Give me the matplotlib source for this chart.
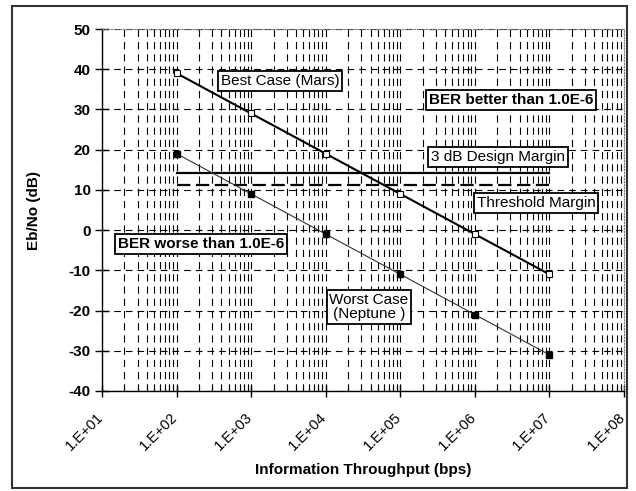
import numpy as np
import matplotlib
matplotlib.use('Agg')
import matplotlib.pyplot as plt
import matplotlib.transforms as mtransforms
from matplotlib.patches import Rectangle
from matplotlib.ticker import LogLocator, NullFormatter

plt.rcParams['font.family'] = ['Liberation Sans', 'DejaVu Sans']
plt.rcParams['axes.unicode_minus'] = False

# data
throughput = [1e2, 1e3, 1e4, 1e5, 1e6, 1e7]
best_case = [39, 29, 19, 9, -1, -11]      # Mars
worst_case = [19, 9, -1, -11, -21, -31]   # Neptune
design_margin = 14.2
threshold_margin = 11.2
xticks = [1e1, 1e2, 1e3, 1e4, 1e5, 1e6, 1e7, 1e8]
xtick_labels = ['1.E+01', '1.E+02', '1.E+03', '1.E+04', '1.E+05', '1.E+06', '1.E+07', '1.E+08']
yticks = list(range(-40, 51, 10))

fig = plt.figure(figsize=(6.36, 4.91), dpi=100)
ax = fig.add_axes([0.1604, 0.2037, 0.8207, 0.7372])

# outer frame round the whole chart
fig.patches.append(Rectangle((0.0189, 0.0061), 0.967, 0.9817, transform=fig.transFigure,
                             fill=False, ec='#333333', lw=1.5))

ax.set_xscale('log')
ax.set_xlim(1e1, 1e8)
ax.set_ylim(-40, 50)

# grid: dashed horizontal at majors, dashed vertical at every log step
ax.set_yticks(yticks)
ax.set_xticks(xticks)
ax.set_xticklabels(xtick_labels)
ax.xaxis.set_minor_locator(LogLocator(base=10, subs=np.arange(2, 10)))
ax.xaxis.set_minor_formatter(NullFormatter())
ax.grid(axis='y', which='major', color='black', lw=0.8, linestyle=(0, (6, 4.5)))
ax.grid(axis='x', which='both', color='black', lw=0.8, linestyle=(0, (6.5, 4.5)))
ax.set_axisbelow(True)

# the two link cases
ax.plot(throughput, best_case, color='black', lw=1.5, marker='s', ms=4,
        mfc='white', mec='black', mew=0.8, zorder=4)
ax.plot(throughput, worst_case, color='#333333', lw=0.8, marker='s', ms=4.5,
        mfc='black', mec='black', zorder=4)

# margins
ax.plot([throughput[0], throughput[-1]], [design_margin] * 2, color='black', lw=1.6, zorder=3)
ax.plot([throughput[0], throughput[-1]], [threshold_margin] * 2, color='black', lw=1.6,
        linestyle=(0, (6, 2.5)), zorder=3)

box = dict(boxstyle='square,pad=0.18', fc='white', ec='black', lw=1.3)
ax.text(2440, 37.1, 'Best Case (Mars)', fontsize=11, ha='center', va='center', bbox=box, zorder=5)
ax.text(3.05e6, 32.4, 'BER better than 1.0E-6', fontsize=11, weight='bold', ha='center',
        va='center', bbox=box, zorder=5)
ax.text(2.04e6, 18.2, '3 dB Design Margin', fontsize=11, ha='center', va='center', bbox=box, zorder=5)
ax.text(6.6e6, 6.7, 'Threshold Margin', fontsize=11, ha='center', va='center', bbox=box, zorder=5)
ax.text(213, -3.5, 'BER worse than 1.0E-6', fontsize=11, weight='bold', ha='center',
        va='center', bbox=box, zorder=5)
ax.text(38000, -19.1, 'Worst Case\n(Neptune )', fontsize=11, ha='center', va='center',
        linespacing=1.0, bbox=box, zorder=5)

# spines and ticks
for s in ['top', 'right']:
    ax.spines[s].set_color('#777777')
    ax.spines[s].set_linestyle(':')
    ax.spines[s].set_linewidth(0.8)
for s in ['left', 'bottom']:
    ax.spines[s].set_color('black')
    ax.spines[s].set_linewidth(1.0)

ax.tick_params(axis='y', which='major', direction='inout', length=10, width=1, pad=3)
ax.tick_params(axis='x', which='major', direction='inout', length=8, width=1, pad=4)
ax.tick_params(axis='x', which='minor', direction='in', length=4, width=0.8)
for lab in ax.get_yticklabels():
    lab.set_fontsize(11)
    lab.set_fontweight('bold')
shift = mtransforms.ScaledTranslation(-6 / 100, -8 / 100, fig.dpi_scale_trans)
for lab in ax.get_xticklabels():
    lab.set_fontsize(10.5)
    lab.set_rotation(45)
    lab.set_ha('right')
    lab.set_va('top')
    lab.set_rotation_mode('anchor')
    lab.set_transform(lab.get_transform() + shift)

ax.set_xlabel('Information Throughput (bps)', fontsize=11, weight='bold', labelpad=7)
ax.set_ylabel('Eb/No (dB)', fontsize=11, weight='bold', labelpad=20)

fig.savefig('out.png', dpi=100)
